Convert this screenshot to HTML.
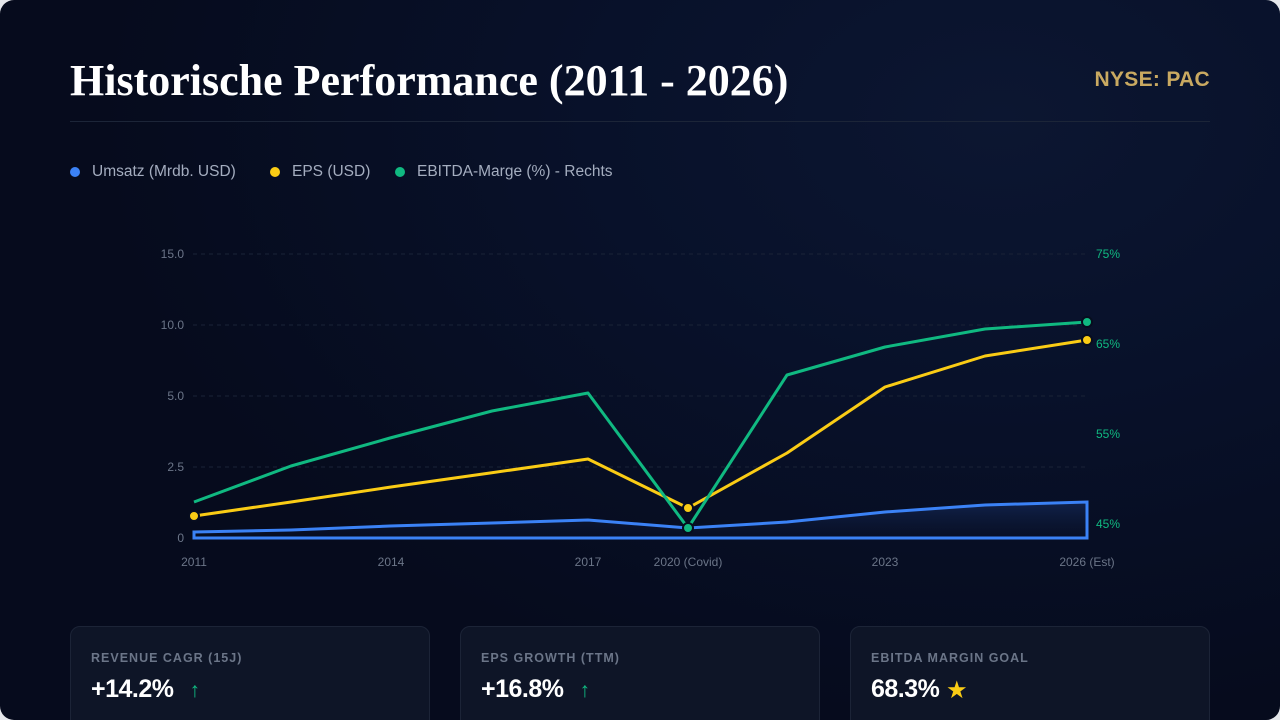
<!DOCTYPE html>
<html><head><meta charset="utf-8"><style>
html,body{margin:0;padding:0;width:1280px;height:720px;overflow:hidden;background:#e5e7eb;}
.wrap{position:absolute;left:0;top:0;width:1280px;height:720px;border-radius:14px;overflow:hidden;
background:radial-gradient(ellipse 900px 600px at 1000px 120px,#0c1631 0%,#08112a 45%,#060b1d 100%);font-family:"Liberation Sans",sans-serif;}
.title{position:absolute;left:70px;top:54px;font-family:"Liberation Serif",serif;font-weight:bold;font-size:44px;color:#fff;letter-spacing:0px;white-space:nowrap;line-height:54px;}
.ticker{position:absolute;right:70px;top:68px;font-weight:bold;font-size:21px;color:#c9a961;letter-spacing:0.3px;}
.sep{position:absolute;left:70px;top:121px;width:1140px;height:1px;background:#1c2538;}
.li{position:absolute;top:163px;font-size:15.5px;color:#a4adbf;white-space:nowrap;line-height:18px;}
.dot{position:absolute;top:167px;width:10px;height:10px;border-radius:50%;}
.card{position:absolute;top:626px;width:360px;height:120px;border-radius:10px;background:#0e1527;border:1px solid #1c2437;box-sizing:border-box;}
.card .lbl{position:absolute;left:20px;top:24px;font-size:12.5px;font-weight:bold;color:#6b7588;letter-spacing:1px;white-space:nowrap;}
.card .val{position:absolute;left:20px;top:48px;font-size:25px;font-weight:bold;color:#fff;white-space:nowrap;letter-spacing:-0.5px;}
.card .val b{font-size:21px;color:#10b981;margin-left:16px;font-weight:bold;}
</style></head><body>
<div class="wrap">
<div class="title">Historische Performance (2011 - 2026)</div>
<div class="ticker">NYSE: PAC</div>
<div class="sep"></div>
<div class="dot" style="left:70px;background:#3b82f6"></div><div class="li" style="left:92px">Umsatz (Mrdb. USD)</div>
<div class="dot" style="left:270px;background:#facc15"></div><div class="li" style="left:292px">EPS (USD)</div>
<div class="dot" style="left:395px;background:#10b981"></div><div class="li" style="left:417px">EBITDA-Marge (%) - Rechts</div>
<svg width="1280" height="720" style="position:absolute;left:0;top:0" xmlns="http://www.w3.org/2000/svg">
<defs><linearGradient id="bf" x1="0" y1="0" x2="0" y2="1"><stop offset="0" stop-color="#1d3a7a" stop-opacity="0.45"/><stop offset="1" stop-color="#0b1530" stop-opacity="0.2"/></linearGradient></defs>
<g stroke="#1a2337" stroke-width="1" stroke-dasharray="4 4">
<line x1="193" y1="254" x2="1087" y2="254"/><line x1="193" y1="325" x2="1087" y2="325"/><line x1="193" y1="396" x2="1087" y2="396"/><line x1="193" y1="467" x2="1087" y2="467"/>
</g>
<g font-family="Liberation Sans, sans-serif" font-size="12" fill="#6b7588" text-anchor="end">
<text x="184" y="258">15.0</text><text x="184" y="329">10.0</text><text x="184" y="400">5.0</text><text x="184" y="471">2.5</text><text x="184" y="542">0</text>
</g>
<g font-family="Liberation Sans, sans-serif" font-size="12" fill="#10b981" text-anchor="start">
<text x="1096" y="258">75%</text><text x="1096" y="348">65%</text><text x="1096" y="438">55%</text><text x="1096" y="528">45%</text>
</g>
<g font-family="Liberation Sans, sans-serif" font-size="12" fill="#6b7588" text-anchor="middle">
<text x="194" y="566">2011</text><text x="391" y="566">2014</text><text x="588" y="566">2017</text><text x="688" y="566">2020 (Covid)</text><text x="885" y="566">2023</text><text x="1087" y="566">2026 (Est)</text>
</g>
<path d="M194,532 L291,530 L390,526 L492,523 L588,520 L688,528 L787,522 L885,512 L985,505 L1087,502 L1087,538 L194,538 Z" fill="url(#bf)" stroke="#3b82f6" stroke-width="3" stroke-linejoin="miter"/>
<polyline points="194,516 291,502 391,487 490,473 588,459 688,508 787,453 885,387 985,356 1087,340" fill="none" stroke="#facc15" stroke-width="3" stroke-linejoin="round"/>
<polyline points="194,502 291,466 390,438 492,411 588,393 688,528 787,375 885,347 985,329 1087,322" fill="none" stroke="#10b981" stroke-width="3" stroke-linejoin="round"/>
<g stroke="#070d1f" stroke-width="2">
<circle cx="194" cy="516" r="5" fill="#facc15"/>
<circle cx="688" cy="508" r="5" fill="#facc15"/>
<circle cx="1087" cy="340" r="5" fill="#facc15"/>
<circle cx="688" cy="528" r="5" fill="#10b981"/>
<circle cx="1087" cy="322" r="5" fill="#10b981"/>
</g>
</svg>
<div class="card" style="left:70px"><div class="lbl">REVENUE CAGR (15J)</div><div class="val">+14.2%<b>↑</b></div></div>
<div class="card" style="left:460px"><div class="lbl">EPS GROWTH (TTM)</div><div class="val">+16.8%<b>↑</b></div></div>
<div class="card" style="left:850px"><div class="lbl">EBITDA MARGIN GOAL</div><div class="val">68.3%<b style="color:#facc15;font-size:21px;margin-left:8px">★</b></div></div>
</div>
</body></html>
